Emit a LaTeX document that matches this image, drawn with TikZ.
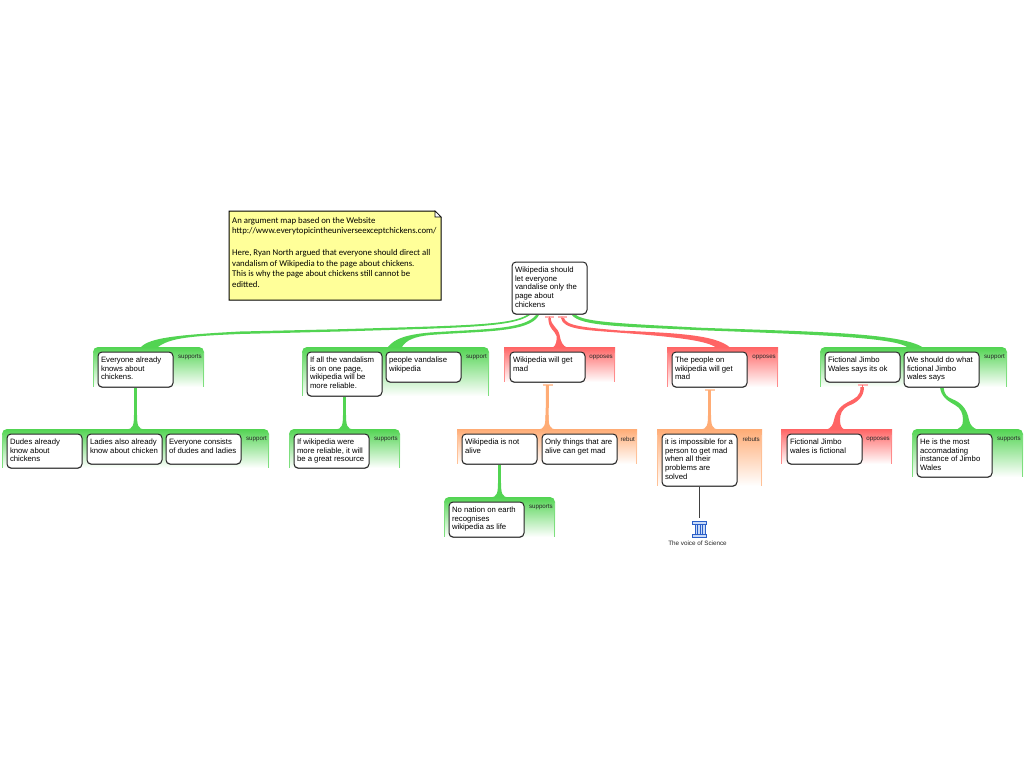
\documentclass[tikz,border=0pt]{standalone}
\usepackage{fontspec}
\setmainfont{Liberation Sans}
\newfontfamily\notefont{Carlito}
\usetikzlibrary{calc,shadows}
\pgfdeclarelayer{back}
\pgfsetlayers{back,main}
\definecolor{sup}{HTML}{52D452}
\definecolor{opp}{HTML}{FF6464}
\definecolor{reb}{HTML}{FFAC75}
\definecolor{suptee}{HTML}{FFB0B0}
\definecolor{rebtee}{HTML}{FFC9A6}
\definecolor{notebg}{HTML}{FFFF99}
\definecolor{pillar}{HTML}{2B5FC8}
\definecolor{pillarbg}{HTML}{C9DBF8}
\tikzset{
  argbox/.style={draw=black!85,line width=1pt,fill=white,rounded corners=4pt,anchor=north west,inner xsep=3pt,inner ysep=3pt,outer sep=0pt,
    font=\fontsize{7.75}{8.85}\selectfont,drop shadow={shadow xshift=0pt,shadow yshift=-0.8pt,fill=black!45,opacity=1}},
  grplabel/.style={anchor=east,inner sep=0pt,font=\fontsize{6.2}{7}\selectfont,text=black!85},
  tee/.style={line width=2pt},
  spine/.style={line width=.7pt}
}
\newcommand\argn[5]{\node[argbox] (#1) at (#2,#3) {\parbox[t][#4pt][t]{69pt}{\raggedright\rule{0pt}{7.2pt}#5}};}
\newcommand\grp[8]{%
  \shade[top color=#6,bottom color=white] (#2,#5) [rounded corners=#7pt] -- (#2,#3) -- (#4,#3) [sharp corners] -- (#4,#5) -- cycle;
  \draw[#6!75,line width=1pt] (#2+0.5,#3+6) -- (#2+0.5,#5);
  \draw[#6!75,line width=1pt] (#4-0.5,#3+6) -- (#4-0.5,#5);
  \coordinate (#1) at ({(#2+#4)/2},#3);
  \node[grplabel] (#1-l) at (#4-2,#3+10) {#8};
}
% straight stem from a start coordinate to the group's top, flaring at the group
\newcommand\stem[3]{%
  \draw[#3,line width=3pt] (#1) -- (#2);
  \fill[#3] ($(#2)+(-1.5,-14)$) .. controls ($(#2)+(-1.5,-3)$) and ($(#2)+(-3,0)$) .. ($(#2)+(-9,0.5)$) -- ($(#2)+(9,0.5)$) .. controls ($(#2)+(3,0)$) and ($(#2)+(1.5,-3)$) .. ($(#2)+(1.5,-14)$) -- cycle;
}
\begin{document}
\begin{tikzpicture}[x=1pt,y=-1pt]
\useasboundingbox (0,0) rectangle (1024,768);
\begin{pgfonlayer}{back}
\fill[white] (0,0) rectangle (1024,768);
\end{pgfonlayer}

% note
\fill[notebg,draw=black,line width=1pt] (229,211) -- (435,211) -- (441,217) -- (441,300) -- (229,300) -- cycle;
\fill[white,draw=black,line width=.6pt] (435,211) -- (435,217) -- (441,217) -- cycle;
\node[anchor=north west,inner sep=0pt,align=left,font=\notefont\fontsize{8.75}{10.7}\selectfont] (note) at (232,217) {An argument map based on the Website\\http://www.everytopicintheuniverseexceptchickens.com/\\[10.7pt]Here, Ryan North argued that everyone should direct all\\vandalism of Wikipedia to the page about chickens.\\This is why the page about chickens still cannot be\\editted.};

% argument boxes
\argn{root}{512}{262}{46}{Wikipedia should\\let everyone\\vandalise only the\\page about\\chickens}
\argn{know}{98}{352}{29}{Everyone already\\knows about\\chickens.}
\argn{dudes}{7}{434}{28}{Dudes already\\know about\\chickens}
\argn{ladies}{87}{434}{24}{Ladies also already\\know about chicken}
\argn{consists}{166}{434}{24}{Everyone consists\\of dudes and ladies}
\argn{onepage}{307}{352}{38}{If all the vandalism\\is on one page,\\wikipedia will be\\more reliable.}
\argn{people}{386}{352}{24}{people vandalise\\wikipedia}
\argn{resource}{294}{434}{28}{If wikipedia were\\more reliable, it will\\be a great resource}
\argn{mad}{510}{352}{24}{Wikipedia will get\\mad}
\argn{alive}{462}{434}{24}{Wikipedia is not\\alive}
\argn{things}{542}{434}{24}{Only things that are\\alive can get mad}
\argn{nation}{449}{502}{29}{No nation on earth\\recognises\\wikipedia as life}
\argn{peoplemad}{672}{352}{29}{The people on\\wikipedia will get\\mad}
\argn{impossible}{662}{434}{46}{it is impossible for a\\person to get mad\\when all their\\problems are\\solved}
\argn{jimbo}{825}{352}{24}{Fictional Jimbo\\Wales says its ok}
\argn{should}{904}{352}{29}{We should do what\\fictional Jimbo\\wales says}
\argn{fictional}{787}{434}{24}{Fictional Jimbo\\wales is fictional}
\argn{instance}{917}{434}{37}{He is the most\\accomadating\\instance of Jimbo\\Wales}

% source icon and its label
\node[inner sep=0pt,font=\fontsize{6.3}{7}\selectfont,text=black!85] (voice) at (697.5,543.5) {The voice of Science};
\coordinate (icontop) at (699.5,518);
\draw[pillar,fill=pillarbg,line width=.8pt] (695,524) rectangle (705,534);
\draw[pillar,line width=.6pt] (697.5,524) -- (697.5,534) (700,524) -- (700,534) (702.5,524) -- (702.5,534);
\draw[pillar,fill=pillarbg,line width=.9pt] (692.5,521) rectangle (706.5,524.5);
\draw[pillar,fill=pillarbg,line width=.9pt] (692.5,534) rectangle (706.5,537.5);

\begin{pgfonlayer}{back}
% groups
\grp{g1}{93}{347}{204}{387}{sup}{5}{supports}
\grp{g2}{2}{429}{269}{468}{sup}{5}{support}
\grp{g3}{302}{347}{489}{396}{sup}{5}{support}
\grp{g4}{289}{429}{400}{468}{sup}{5}{supports}
\grp{g5}{504}{347}{615}{382}{opp}{0}{opposes}
\grp{g6}{457}{429}{637}{464}{reb}{0}{rebut}
\grp{g7}{444}{497}{555}{537}{sup}{5}{supports}
\grp{g8}{667}{347}{778}{387}{opp}{0}{opposes}
\grp{g9}{657}{429}{762}{486}{reb}{0}{rebuts}
\grp{g10}{820}{347}{1007}{387}{sup}{5}{support}
\grp{g11}{781}{429}{892}{464}{opp}{0}{opposes}
\grp{g12}{912}{429}{1023}{477}{sup}{5}{supports}

% tee ends
\coordinate (t1) at ($(root.south)+(0,2.5)$);
\coordinate (t2) at ($(root.south)+(12.5,2.5)$);
\coordinate (t3) at ($(mad.south)+(0,3)$);
\coordinate (t4) at ($(peoplemad.south)+(0,3)$);
\coordinate (t5) at ($(jimbo.south)+(0,3)$);
\draw[suptee,tee] ($(t1)+(-4.5,0)$) -- ($(t1)+(4.5,0)$);
\draw[suptee,tee] ($(t2)+(-4.5,0)$) -- ($(t2)+(4.5,0)$);
\draw[rebtee,tee] ($(t3)+(-5,0)$) -- ($(t3)+(5,0)$);
\draw[rebtee,tee] ($(t4)+(-5,0)$) -- ($(t4)+(5,0)$);
\draw[suptee,tee] ($(t5)+(-5,0)$) -- ($(t5)+(5,0)$);

% straight connectors
\stem{know.south}{g2}{sup}
\stem{onepage.south}{g4}{sup}
\stem{alive.south}{g7}{sup}
\stem{t3}{g6}{reb}
\stem{t4}{g9}{reb}
\draw[black!75,line width=1.2pt] (impossible.south) -- (icontop);

% root -> g1
\draw[sup,spine] (root.center) -- (528.5,315) .. controls (511.5,326) and (470,326.45) .. (340,330.35) -- (240,332.75) .. controls (182.5,335.5) and (160,338) .. (g1);
\fill[sup] (141,347) .. controls (150,338) and (175,335) .. (240,331.5) -- (340,329.2) .. controls (470,325.4) and (510,325) .. (527,315) -- (530,315) .. controls (513,327) and (470,327.5) .. (340,331.5) -- (240,334) .. controls (190,336) and (170,338) .. (158,347) -- cycle;
% root -> g3
\draw[sup,spine] (root.center) -- (537.5,315) .. controls (527.5,331.5) and (480,330) .. (430,333.75) .. controls (411.5,335.5) and (400.5,339) .. (g3);
\fill[sup] (388,347) .. controls (395,338) and (408,334.5) .. (430,332.5) .. controls (480,329) and (525,330) .. (536,315) -- (539,315) .. controls (530,333) and (480,331) .. (430,335) .. controls (415,336.5) and (406,340) .. (402,347) -- cycle;
% root -| g5
\draw[opp,spine] (t1) -- ($(t1)+(0,2)$) .. controls (549.5,327.5) and (556.5,329) .. (558,335.5) -- (g5);
\fill[opp] (548.3,318) -- (550.8,318) .. controls (550.8,326) and (558,327) .. (559.6,335) .. controls (560.6,342) and (563,346) .. (567,347.5) -- (553,347.5) .. controls (556,345) and (557,341) .. (556.5,336) .. controls (555.5,331) and (548.3,329) .. (548.3,318) -- cycle;
% root -| g8
\draw[opp,spine] (t2) -- ($(t2)+(0,1.5)$) .. controls (564,328.5) and (585,329) .. (620,331.5) .. controls (670,335) and (710.5,337) .. (g8);
\fill[opp] (564,318) .. controls (566,326) and (585,327.5) .. (620,330.5) .. controls (670,333) and (715,334) .. (730,347.5) -- (716,347.5) .. controls (706,340) and (670,336.5) .. (620,332.7) .. controls (585,330) and (563,329.5) .. (561,318) -- cycle;
% root -> g10
\draw[sup,spine] (root.center) -- (574,315) .. controls (582.5,324) and (620,325) .. (700,329) .. controls (800,333) and (897,335) .. (g10);
\fill[sup] (576,315) .. controls (585,322) and (620,323.5) .. (700,327.7) .. controls (800,331.5) and (900,332) .. (923,347.5) -- (908,347.5) .. controls (895,338) and (830,335) .. (700,330.2) .. controls (620,326.5) and (580,326) .. (572,315) -- cycle;
% jimbo -| g11
\draw[opp,spine] (t5) -- ($(t5)+(0,2)$) .. controls (862.3,397) and (856,400.5) .. (848,404) .. controls (842,407) and (838,412) .. (837,420) -- (g11);
\fill[opp] (864,387) .. controls (864,398) and (856,403) .. (848,406) .. controls (842,409) and (840,414) .. (840,420) .. controls (840,426) and (842,429) .. (845,429.5) -- (827,429.5) .. controls (831,428) and (833,425) .. (834,420) .. controls (836,410) and (842,405) .. (848,402) .. controls (856,398) and (860.5,396) .. (860.5,387) -- cycle;
% should -> g12
\draw[sup,spine] (should.south) .. controls (942.5,397) and (948,399) .. (953.5,402) .. controls (961,405) and (965,411) .. (966,420) -- (g12);
\fill[sup] (940,387) .. controls (941,397) and (948,401) .. (955,405) .. controls (961,408) and (963,414) .. (963,420) .. controls (963,426) and (960,428) .. (957,429.5) -- (977,429.5) .. controls (973,428) and (970,425) .. (969,420) .. controls (967,408) and (960,402) .. (952,399) .. controls (947,397) and (944,394) .. (943.5,387) -- cycle;
\end{pgfonlayer}
\end{tikzpicture}
\end{document}
